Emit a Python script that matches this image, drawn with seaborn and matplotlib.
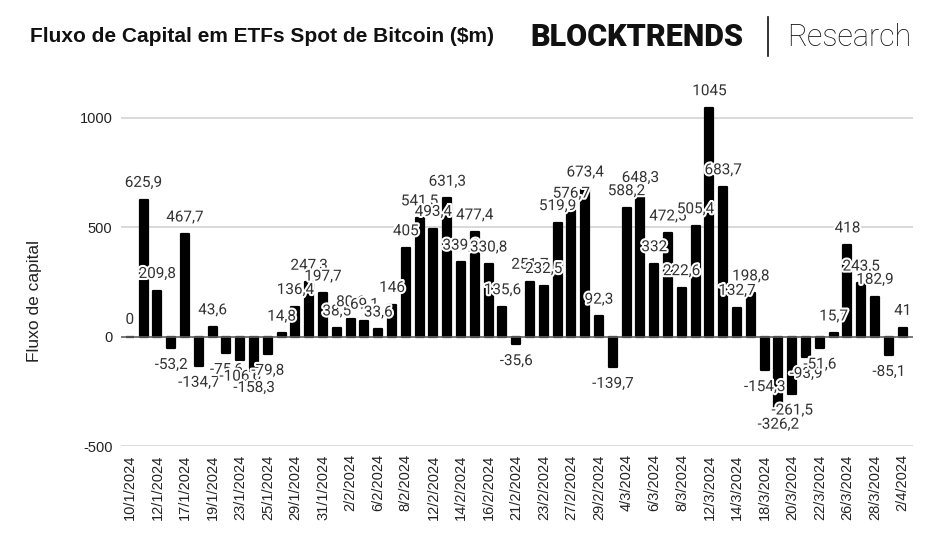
import matplotlib
matplotlib.use("Agg")
import matplotlib.pyplot as plt
import matplotlib.patheffects as pe
import seaborn as sns
import pandas as pd

# trading days (dd/m/yyyy) and net flows in $m
dates = [
    "10/1/2024", "11/1/2024", "12/1/2024", "16/1/2024", "17/1/2024", "18/1/2024",
    "19/1/2024", "22/1/2024", "23/1/2024", "24/1/2024", "25/1/2024", "26/1/2024",
    "29/1/2024", "30/1/2024", "31/1/2024", "1/2/2024", "2/2/2024", "5/2/2024",
    "6/2/2024", "7/2/2024", "8/2/2024", "9/2/2024", "12/2/2024", "13/2/2024",
    "14/2/2024", "15/2/2024", "16/2/2024", "20/2/2024", "21/2/2024", "22/2/2024",
    "23/2/2024", "26/2/2024", "27/2/2024", "28/2/2024", "29/2/2024", "1/3/2024",
    "4/3/2024", "5/3/2024", "6/3/2024", "7/3/2024", "8/3/2024", "11/3/2024",
    "12/3/2024", "13/3/2024", "14/3/2024", "15/3/2024", "18/3/2024", "19/3/2024",
    "20/3/2024", "21/3/2024", "22/3/2024", "25/3/2024", "26/3/2024", "27/3/2024",
    "28/3/2024", "1/4/2024", "2/4/2024",
]
flows = [
    0, 625.9, 209.8, -53.2, 467.7, -134.7,
    43.6, -75.6, -106.6, -158.3, -79.8, 14.8,
    136.4, 247.3, 197.7, 38.5, 80.6, 69.1,
    33.6, 146, 405, 541.5, 493.4, 631.3,
    339.3, 477.4, 330.8, 135.6, -35.6, 251.7,
    232.5, 519.9, 576.7, 673.4, 92.3, -139.7,
    588.2, 648.3, 332, 472.5, 222.6, 505.4,
    1045, 683.7, 132.7, 198.8, -154.3, -326.2,
    -261.5, -93.9, -51.6, 15.7, 418, 243.5,
    182.9, -85.1, 41,
]
y_ticks = [-500, 0, 500, 1000]

df = pd.DataFrame({"data": dates, "fluxo": flows})


def fmt(v):
    if float(v).is_integer():
        return f"{int(v)}"
    return f"{v:.1f}".replace(".", ",")


fig = plt.figure(figsize=(9.37, 5.58), dpi=100)
ax = fig.add_axes([0.129, 0.2007, 0.845, 0.6667])

sns.barplot(data=df, x="data", y="fluxo", color="black", width=0.58,
            saturation=1, ax=ax, order=dates)
for p in ax.patches:
    p.set_edgecolor("black")
    p.set_linewidth(1.6)
    p.set_joinstyle("round")

# grid + zero line
for t in y_ticks:
    if t == 0:
        ax.axhline(0, color="#606060", lw=1.2, zorder=3)
    else:
        ax.axhline(t, color="#d0d0d0", lw=1.1, zorder=0)

ax.set_ylim(-500, 1200)
ax.set_xlim(-0.65, 56.72)
ax.set_yticks(y_ticks)
ax.set_yticklabels([str(t) for t in y_ticks], fontsize=10.5, color="#222222",
                   family="Liberation Sans")
ax.set_xticks(range(0, len(dates), 2))
ax.set_xticklabels(dates[::2], rotation=90, fontsize=10.5, color="#222222",
                   family="Liberation Sans")
ax.tick_params(length=0, pad=6)
for s in ax.spines.values():
    s.set_visible(False)
ax.set_xlabel("")
ax.set_ylabel("")
fig.text(35 / 937, 1 - 301 / 558, "Fluxo de capital", rotation=90,
         fontsize=12.5, color="#222222", family="Liberation Sans",
         ha="center", va="center")

# value labels
halo = [pe.withStroke(linewidth=3, foreground="white")]
for i, v in enumerate(flows):
    off = 7 if v >= 0 else -7
    ax.annotate(fmt(v), (i, v), xytext=(0, off), textcoords="offset points",
                ha="center", va="bottom" if v >= 0 else "top",
                fontsize=11, color="#333333", family="Roboto",
                path_effects=halo, zorder=5)

# header
fig.text(30 / 937, 1 - 36 / 558, "Fluxo de Capital em ETFs Spot de Bitcoin ($m)",
         fontsize=15, fontweight="bold", family="Liberation Sans",
         color="#111111", va="center")
fig.text(530 / 937, 1 - 37 / 558, "BLOCKTRENDS", fontsize=22, fontweight="heavy",
         family="Roboto", color="#111111", va="center")
fig.add_artist(plt.Line2D([768 / 937, 768 / 937], [1 - 56 / 558, 1 - 17 / 558],
                          color="#111111", lw=1.2, transform=fig.transFigure))
fig.text(787 / 937, 1 - 37 / 558, "Research", fontsize=22, fontweight="light",
         family="Roboto", color="#111111", va="center")

fig.savefig("out.png", dpi=100, facecolor="white")
